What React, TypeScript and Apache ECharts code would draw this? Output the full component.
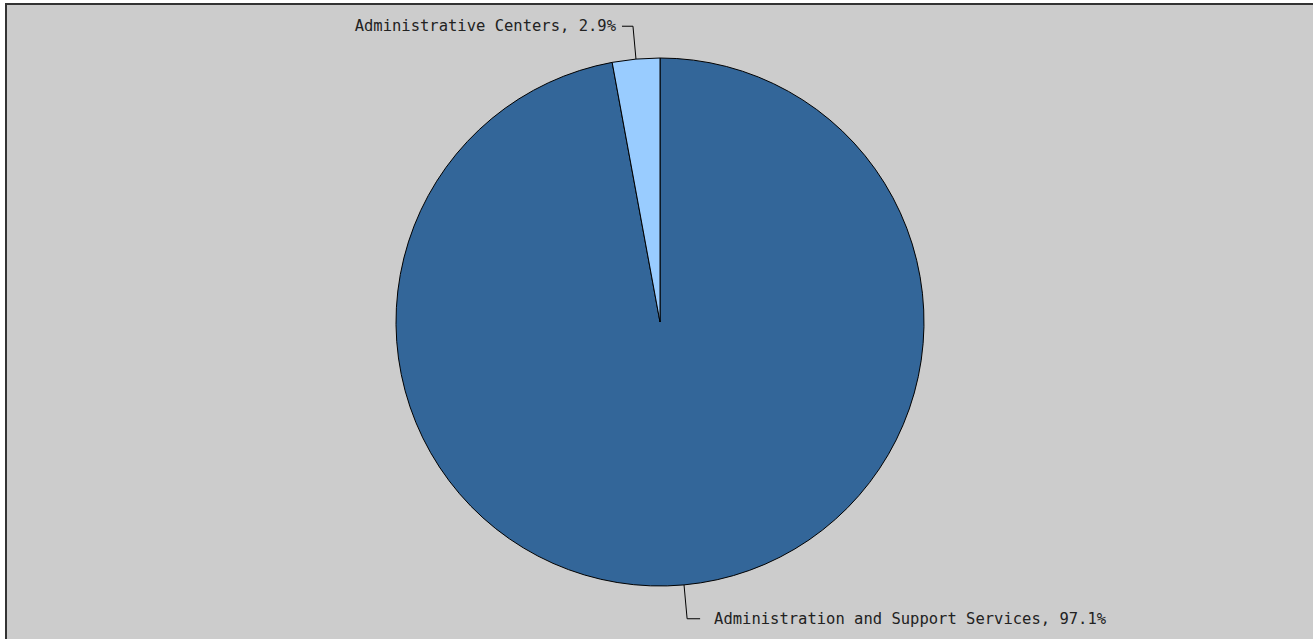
import React, { useEffect, useRef } from "react";
import * as echarts from "echarts";

const categories = ["Administration and Support Services", "Administrative Centers"];
const values = [97.1, 2.9];
const colors = ["#336699", "#99ccff"];

export default function App() {
  const ref = useRef<HTMLDivElement>(null);
  useEffect(() => {
    if (!ref.current) return;
    const chart = echarts.init(ref.current, null, { renderer: "svg" });
    chart.setOption({
      animation: false,
      backgroundColor: "#ffffff",
      graphic: [
        {
          type: "rect",
          z: -10,
          silent: true,
          shape: { x: 6, y: 4, width: 1400, height: 700 },
          style: { fill: "#cccccc", stroke: "#333333", lineWidth: 2 },
        },
      ],
      series: [
        {
          type: "pie",
          center: [660, 322],
          radius: 264,
          startAngle: 90,
          clockwise: true,
          avoidLabelOverlap: false,
          itemStyle: { borderColor: "#000000", borderWidth: 1 },
          label: {
            show: true,
            formatter: (p: any) => `${p.name}, ${p.value}%`,
            color: "#222222",
            fontFamily: "DejaVu Sans Mono",
            fontSize: 15.5,
          },
          labelLine: {
            show: true,
            length: 30,
            length2: 12,
            lineStyle: { color: "#000000", width: 1 },
          },
          emphasis: { disabled: true },
          data: categories.map((c, i) => ({
            name: c,
            value: values[i],
            itemStyle: { color: colors[i] },
            labelLine: { length: i === 0 ? 34 : 33, length2: i === 0 ? 13 : 11 },
            label: { distanceToLabelLine: i === 0 ? 14 : 6 },
          })),
        },
      ],
    });
    return () => chart.dispose();
  }, []);
  return (
    <div
      ref={ref}
      style={{ position: "absolute", left: 0, top: 0, width: 1313, height: 639 }}
    />
  );
}
